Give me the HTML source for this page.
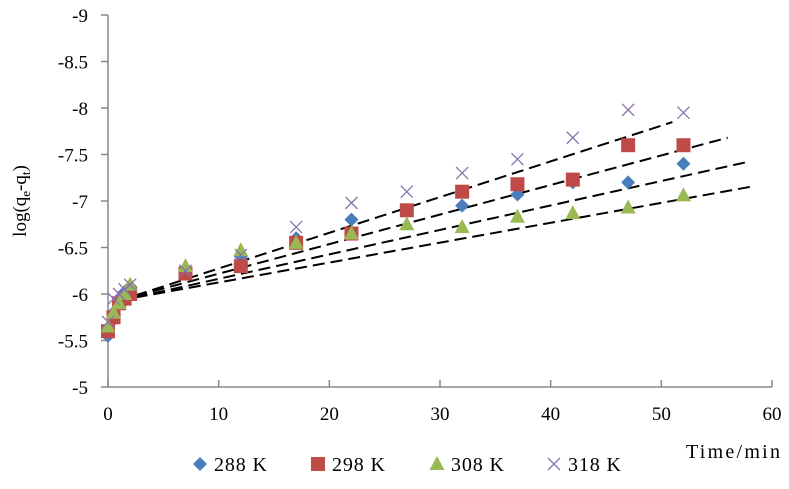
<!DOCTYPE html>
<html><head><meta charset="utf-8"><style>
body{margin:0;background:#fff;}
svg text{font-family:"Liberation Serif",serif;fill:#000;}
</style></head><body>
<svg width="789" height="484" id="c">
</svg>
<script>
const times=[0,0.5,1,1.5,2,7,12,17,22,27,32,37,42,47,52];
const s288=[-5.55,-5.8,-5.95,-6.02,-6.08,-6.25,-6.4,-6.6,-6.8,-6.9,-6.95,-7.07,-7.2,-7.2,-7.4];
const s298=[-5.6,-5.75,-5.9,-5.95,-6.0,-6.22,-6.3,-6.55,-6.65,-6.9,-7.1,-7.18,-7.23,-7.6,-7.6];
const s308=[-5.65,-5.8,-5.9,-6.0,-6.1,-6.3,-6.47,-6.55,-6.65,-6.75,-6.72,-6.83,-6.87,-6.93,-7.06];
const s318=[-5.7,-5.95,-6.0,-6.05,-6.1,-6.25,-6.42,-6.72,-6.98,-7.1,-7.3,-7.45,-7.68,-7.98,-7.95];
const xTicks=[0,10,20,30,40,50,60];
const yTicks=[-5,-5.5,-6,-6.5,-7,-7.5,-8,-8.5,-9];
const fitStart=[0.9,0.9,0.9,0.9];
const fitEnd=[58,56,58,51];
const fitSlope=[-0.0263,-0.0318,-0.0214,-0.0384];
const fitInt=[-5.90,-5.90,-5.91,-5.89];
const steepX=[-0.1,2.1];
const steepY=[-5.5,-6.04];
const X=t=>108+t*(772-108)/60;
const Y=v=>387+(v+5)*(387-15)/4;
const svg=document.getElementById('c');
const NS='http://www.w3.org/2000/svg';
function mk(tag,attrs,parent){const e=document.createElementNS(NS,tag);for(const k in attrs)e.setAttribute(k,attrs[k]);(parent||svg).appendChild(e);return e;}
let ax=mk('line',{x1:108,y1:15,x2:108,y2:387,stroke:'#888','stroke-width':1.5});


ax=mk('line',{x1:108,y1:387,x2:772,y2:387,stroke:'#888','stroke-width':1.5});


yTicks.forEach(v=>{mk('line',{x1:101,x2:108,y1:Y(v),y2:Y(v),stroke:'#888','stroke-width':1.5});
 const t=mk('text',{x:88,y:Y(v)+7,'text-anchor':'end','font-size':19});t.textContent=String(v);
 
 });
xTicks.forEach(v=>{mk('line',{x1:X(v),x2:X(v),y1:380,y2:387,stroke:'#888','stroke-width':1.5});
 const t=mk('text',{x:X(v),y:420,'text-anchor':'middle','font-size':19});t.textContent=String(v);
 
 });
let yt=mk('text',{transform:'translate(26,201) rotate(-90)','text-anchor':'middle','font-size':19});
yt.innerHTML='log(q<tspan font-size="13" dy="4">e</tspan><tspan dy="-4">-q</tspan><tspan font-size="13" dy="4">t</tspan><tspan dy="-4">)</tspan>';


let xt=mk('text',{x:686,y:458,'font-size':20,textLength:94,lengthAdjust:'spacing'});xt.textContent='Time/min';


for(let i=0;i<4;i++){const l=mk('line',{x1:X(fitStart[i]),y1:Y(fitInt[i]+fitSlope[i]*fitStart[i]),x2:X(fitEnd[i]),y2:Y(fitInt[i]+fitSlope[i]*fitEnd[i]),stroke:'#000','stroke-width':2,'stroke-dasharray':'12,6'});
 
 }
let sl=mk('line',{x1:X(steepX[0]),y1:Y(steepY[0]),x2:X(steepX[1]),y2:Y(steepY[1]),stroke:'#000','stroke-width':2,'stroke-dasharray':'12,6'});


function marker(kind,cx,cy,g){
 if(kind===0)return mk('polygon',{points:`${cx},${cy-7} ${cx+7},${cy} ${cx},${cy+7} ${cx-7},${cy}`,fill:'#4a7ebb'},g);
 if(kind===1)return mk('rect',{x:cx-7,y:cy-7,width:14,height:14,fill:'#be4b48'},g);
 if(kind===2)return mk('polygon',{points:`${cx},${cy-8} ${cx+7.5},${cy+6} ${cx-7.5},${cy+6}`,fill:'#98b954'},g);
 const gg=mk('g',{stroke:'#8a72b0','stroke-width':1.3},g);
 mk('line',{x1:cx-6,y1:cy-6,x2:cx+6,y2:cy+6},gg);mk('line',{x1:cx-6,y1:cy+6,x2:cx+6,y2:cy-6},gg);return gg;
}
const series=[s288,s298,s308,s318];
const names=['series-288k','series-298k','series-308k','series-318k'];
series.forEach((s,k)=>{const g=mk('g',{});
 
 
 s.forEach((v,i)=>{const m=marker(k,X(times[i]),Y(v),g);
  
  });});
const labels=['288 K','298 K','308 K','318 K'];
const lx=[200,318,437,554];
labels.forEach((lb,k)=>{const g=mk('g',{});
 
 
 marker(k,lx[k],464,g);
 const t=mk('text',{x:lx[k]+14,y:471,'font-size':20,textLength:53,lengthAdjust:'spacing'},g);t.textContent=lb;});
</script>
</body></html>
